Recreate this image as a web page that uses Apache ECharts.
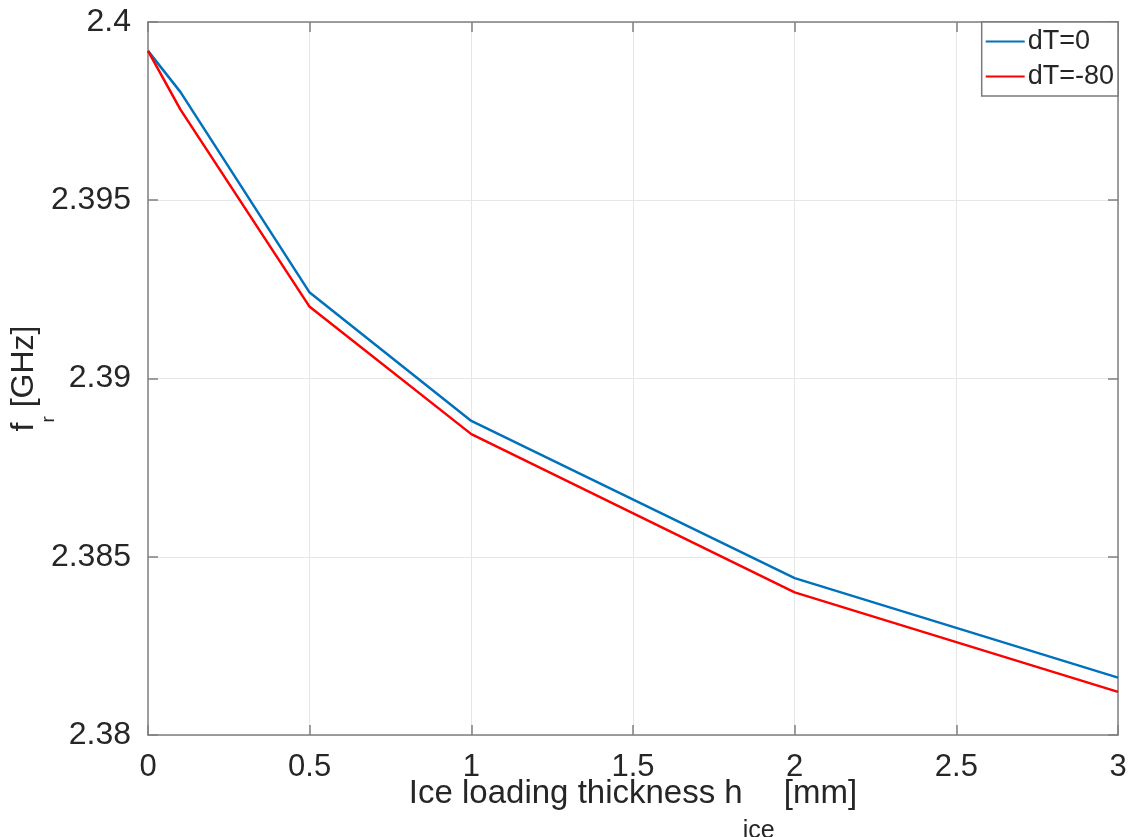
<!DOCTYPE html>
<html>
<head>
<meta charset="utf-8">
<script src="https://cdn.jsdelivr.net/npm/echarts@6/dist/echarts.min.js"></script>
<style>
  html, body { margin: 0; padding: 0; background: #fff; }
  #chart { width: 1129px; height: 837px; }
</style>
</head>
<body>
<div id="chart"></div>
<script>
// ice thickness (mm)
const thickness = [0, 0.1, 0.5, 1, 2, 3];
// resonance frequency (GHz)
const freqDT0 = [2.39919, 2.39804, 2.39241, 2.38881, 2.38440, 2.38161];
const freqDT80 = [2.39919, 2.39755, 2.39201, 2.38844, 2.38400, 2.38121];
const seriesNames = ['dT=0', 'dT=-80'];
const xTickLabels = ['0', '0.5', '1', '1.5', '2', '2.5', '3'];
const yTickLabels = ['2.38', '2.385', '2.39', '2.395', '2.4'];

const font = 'Liberation Sans, Arial, Helvetica, sans-serif';
const textColor = '#262626';
const boxColor = '#808080';

const pairs = (ys) => thickness.map((x, i) => [x, ys[i]]);

const myChart = echarts.init(document.getElementById('chart'), null, { renderer: 'canvas' });

const tickStyle = { show: true, inside: true, length: 10, lineStyle: { color: boxColor, width: 1.5 } };

// thin line legend marker (the M points pin the bounding box to the item size)
const legendLine = 'path://M0,0 M39,27 M0,12.5 L39,12.5 L39,14.5 L0,14.5 Z';

const option = {
  backgroundColor: '#fff',
  animation: false,
  textStyle: { fontFamily: font, color: textColor },
  grid: { left: 148, right: 11, top: 22, bottom: 102, containLabel: false, outerBoundsMode: 'none' },
  legend: {
    orient: 'vertical',
    right: 11,
    top: 22,
    padding: [6, 4, 6, 4],
    itemWidth: 39,
    itemHeight: 27,
    itemGap: 8,
    icon: legendLine,
    backgroundColor: '#fff',
    borderColor: '#7a7a7a',
    borderWidth: 1.5,
    borderRadius: 0,
    data: seriesNames,
    textStyle: { fontFamily: font, fontSize: 27, color: textColor, padding: [0, 0, 0, -2] }
  },
  xAxis: [
    {
      type: 'value',
      min: 0,
      max: 3,
      interval: 0.5,
      name: '{m|Ice loading thickness h}{s|ice}{m| [mm]}',
      nameLocation: 'middle',
      nameGap: 59,
      nameMoveOverlap: false,
      nameTextStyle: {
        rich: {
          m: { fontFamily: font, fontSize: 33, color: textColor, lineHeight: 33, padding: [0, 0, 34, 0] },
          s: { fontFamily: font, fontSize: 25, color: textColor, lineHeight: 25, padding: [42, 0, 0, 0] }
        }
      },
      axisLine: { show: true, onZero: false, lineStyle: { color: boxColor, width: 1.5 } },
      axisTick: tickStyle,
      axisLabel: {
        fontFamily: font,
        fontSize: 31,
        color: textColor,
        margin: 17,
        formatter: (v) => xTickLabels[Math.round(v / 0.5)]
      },
      splitLine: { show: true, lineStyle: { color: '#e6e6e6', width: 1 } }
    },
    {
      type: 'value',
      position: 'top',
      min: 0,
      max: 3,
      interval: 0.5,
      axisLine: { show: true, onZero: false, lineStyle: { color: boxColor, width: 1.5 } },
      axisTick: tickStyle,
      axisLabel: { show: false },
      splitLine: { show: false }
    }
  ],
  yAxis: [
    {
      type: 'value',
      min: 2.38,
      max: 2.4,
      interval: 0.005,
      name: '{m|f}{s|r}{m| [GHz]}',
      nameLocation: 'middle',
      nameRotate: 90,
      nameGap: 99,
      nameMoveOverlap: false,
      nameTextStyle: {
        rich: {
          m: { fontFamily: font, fontSize: 32, color: textColor, lineHeight: 32, padding: [0, 0, 18, 0] },
          s: { fontFamily: font, fontSize: 19, color: textColor, lineHeight: 19, padding: [31, 0, 0, 0] }
        }
      },
      axisLine: { show: true, onZero: false, lineStyle: { color: boxColor, width: 1.5 } },
      axisTick: tickStyle,
      axisLabel: {
        fontFamily: font,
        fontSize: 32,
        color: textColor,
        margin: 17,
        formatter: (v) => yTickLabels[Math.round((v - 2.38) / 0.005)]
      },
      splitLine: { show: true, lineStyle: { color: '#e6e6e6', width: 1 } }
    },
    {
      type: 'value',
      position: 'right',
      min: 2.38,
      max: 2.4,
      interval: 0.005,
      axisLine: { show: true, onZero: false, lineStyle: { color: boxColor, width: 1.5 } },
      axisTick: tickStyle,
      axisLabel: { show: false },
      splitLine: { show: false }
    }
  ],
  series: [
    {
      name: seriesNames[0],
      type: 'line',
      data: pairs(freqDT0),
      symbol: 'none',
      lineStyle: { color: '#0072BD', width: 2.5 },
      itemStyle: { color: '#0072BD' },
      z: 3
    },
    {
      name: seriesNames[1],
      type: 'line',
      data: pairs(freqDT80),
      symbol: 'none',
      lineStyle: { color: '#FF0000', width: 2.5 },
      itemStyle: { color: '#FF0000' },
      z: 3
    }
  ]
};

myChart.setOption(option);
</script>
</body>
</html>
